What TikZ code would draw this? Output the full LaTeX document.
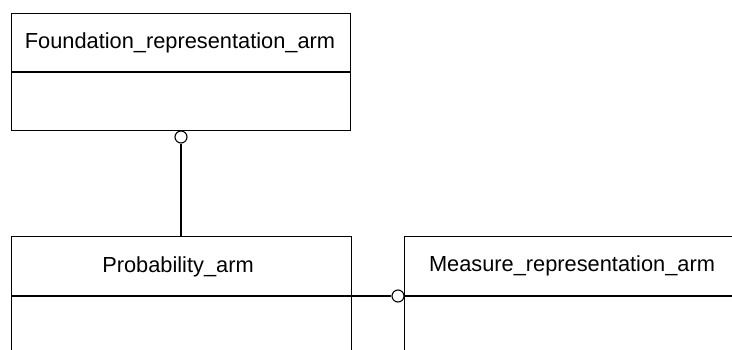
\documentclass[tikz,border=0pt]{standalone}
\usepackage{fontspec}
\setmainfont{Liberation Sans}
\begin{document}
\begin{tikzpicture}[x=1pt,y=-1pt, line width=1.1pt,
  cls/.style={draw, rectangle, inner sep=0pt, anchor=north west},
  lbl/.style={font=\fontsize{21.8}{26}\selectfont, inner sep=0pt},
  ring/.style={draw, circle, fill=white, minimum size=12pt, inner sep=0pt}]
\useasboundingbox (0,0) rectangle (732,349);
\clip (0,0) rectangle (732,349);
% classes
\node[cls, minimum width=339pt, minimum height=117pt] (f) at (11,13) {};
\node[cls, minimum width=340pt, minimum height=140pt] (p) at (11,236) {};
\node[cls, minimum width=360pt, minimum height=140pt] (m) at (404,236) {};
% dividers
\coordinate (fdl) at (11,72);
\coordinate (pdl) at (11,296);
\coordinate (mdl) at (404,296);
\draw (fdl) -- (fdl -| f.east);
\draw (pdl) -- (pdl -| p.east);
\draw (mdl) -- (mdl -| m.east);
% titles
\node[lbl] (ft) at (180,43) {Foundation\_representation\_arm};
\node[lbl] (pt) at (178,267) {Probability\_arm};
\node[lbl] (mt) at (572,266) {Measure\_representation\_arm};
% connectors
\node[ring] (c1) at (181,137) {};
\draw (c1.south) -- (c1.south |- p.north);
\node[ring] (c2) at (398,296) {};
\draw (pdl -| p.east) -- (c2.west);
\end{tikzpicture}
\end{document}
